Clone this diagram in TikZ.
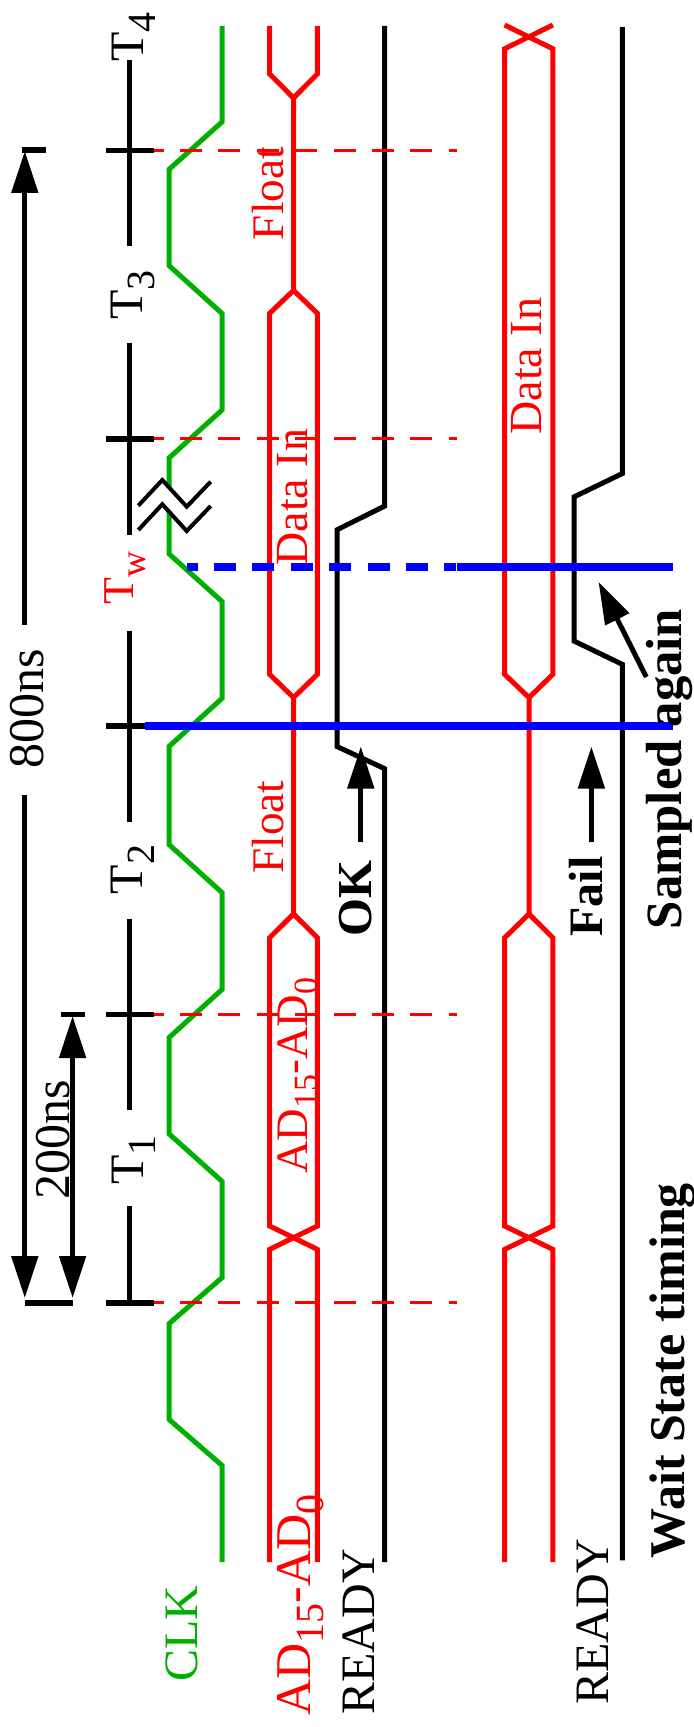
\documentclass[tikz,border=0pt]{standalone}
\usepackage{fontspec}
\setmainfont{Liberation Serif}
\usetikzlibrary{arrows.meta}
\definecolor{clkgreen}{RGB}{0,176,0}
\newcommand{\sublabel}[4]{#1\raisebox{#4}{\fontsize{#3}{#3}\selectfont #2}}
\tikzset{
	trace/.style={line width=2.5pt, line join=miter},
	tick/.style={line width=2.8pt},
	gridline/.style={line width=1.5pt, color=red, dash pattern=on 11pt off 8.2pt, dash phase=5.7pt},
	marker/.style={line width=3.7pt, color=blue},
	lbl/.style={rotate=90, anchor=base west, inner sep=0pt, font=\fontsize{#1}{#1}\selectfont},
	boldlbl/.style={rotate=90, anchor=base west, inner sep=0pt, font=\fontsize{#1}{#1}\selectfont\bfseries},
	span/.style={line width=2.5pt, -{Triangle[length=21pt,width=13pt]}},
	spanboth/.style={line width=2.5pt, {Triangle[length=21pt,width=13pt]}-{Triangle[length=21pt,width=13pt]}}
}

\begin{document}
\begin{tikzpicture}[x=0.5pt, y=-0.5pt]
	\useasboundingbox (0, 0) rectangle (694, 1727);
	%%%%% START %%%%%

	% clock
	\draw[trace, color=clkgreen] (222, 26) -- (222, 122) -- (169, 169.4) -- (169, 265.6) -- (222, 313.4) -- (222, 410)
		-- (169, 458) -- (169, 553.8) -- (222, 601.5) -- (222, 698.4) -- (169, 746.5) -- (169, 844.5) -- (222, 892.6)
		-- (222, 989.5) -- (169, 1037.6) -- (169, 1133.8) -- (222, 1181.3) -- (222, 1277.7) -- (169, 1323.7)
		-- (169, 1419.4) -- (222, 1465.4) -- (222, 1562);

	% bus, first case
	\draw[trace, color=red] (269.6, 26) -- (269.6, 74) -- (293.5, 98) -- (293.5, 290.4) -- (269.6, 313.4) -- (269.6, 674.3)
		-- (293.5, 697.6) -- (293.5, 914) -- (269.6, 937.8) -- (269.6, 1226) -- (317.4, 1249.4) -- (317.4, 1562);
	\draw[trace, color=red] (317.4, 26) -- (317.4, 74) -- (293.5, 98);
	\draw[trace, color=red] (293.5, 290.4) -- (317.4, 313.4) -- (317.4, 674.3) -- (293.5, 697.6);
	\draw[trace, color=red] (293.5, 914) -- (317.4, 937.8) -- (317.4, 1226) -- (269.6, 1249.4) -- (269.6, 1562);

	% bus, second case
	\draw[trace, color=red] (552.9, 25) -- (504.6, 48.8) -- (504.6, 674.3) -- (529, 697.6) -- (529, 914) -- (504.6, 937.8)
		-- (504.6, 1226) -- (552.9, 1249.4) -- (552.9, 1562);
	\draw[trace, color=red] (504.6, 25) -- (552.9, 48.8) -- (552.9, 674.3) -- (529, 697.6);
	\draw[trace, color=red] (529, 914) -- (552.9, 937.8) -- (552.9, 1226) -- (504.6, 1249.4) -- (504.6, 1562);

	% ready lines
	\draw[trace] (384.7, 26) -- (384.7, 506) -- (337, 529.8) -- (337, 746.5) -- (384.7, 768.7) -- (384.7, 1562);
	\draw[trace] (622.4, 27) -- (622.4, 473.5) -- (574, 496.9) -- (574, 641) -- (622.4, 664.4) -- (622.4, 1560.4);

	% dashed guides
	\draw[gridline] (153, 150.6) -- (457, 150.6);
	\draw[gridline] (153, 438.8) -- (457, 438.8);
	\draw[gridline] (153, 1014.3) -- (457, 1014.3);
	\draw[gridline] (153, 1302.7) -- (457, 1302.7);

	% period axis
	\draw[trace] (129.7, 60) -- (129.7, 246);
	\draw[trace] (129.7, 342.6) -- (129.7, 534.6);
	\draw[trace] (129.7, 630.7) -- (129.7, 822.3);
	\draw[trace] (129.7, 918.5) -- (129.7, 1110);
	\draw[trace] (129.7, 1206.3) -- (129.7, 1302.7);
	\draw[tick] (106, 150.6) -- (153.6, 150.6);
	\draw[tick] (106, 438.8) -- (153.6, 438.8);
	\draw[tick] (106, 726) -- (153.6, 726);
	\draw[tick] (106, 1014.3) -- (153.6, 1014.3);
	\draw[tick] (106, 1302.7) -- (153.6, 1302.7);

	% sampling instants
	\draw[marker] (145, 726) -- (672.9, 726);
	\draw[marker, dash pattern=on 11pt off 8.2pt, dash phase=5.7pt] (187, 567) -- (456, 567);
	\draw[marker] (457, 567) -- (672.9, 567);

	% break mark
	\fill[white] (138.3, 505.7) -- (162.3, 480) -- (186.7, 506.7) -- (210.7, 481.7) -- (210.7, 506) -- (186.7, 531) -- (162.3, 504.3) -- (138.3, 530) -- cycle;
	\draw[line width=2pt] (138.3, 505.7) -- (162.3, 480) -- (186.7, 506.7) -- (210.7, 481.7);
	\draw[line width=2pt] (138.3, 530) -- (162.3, 504.3) -- (186.7, 531) -- (210.7, 506);

	% dimension arrows
	\draw[tick] (22, 150) -- (45.6, 150);
	\draw[tick] (24.8, 1303) -- (73, 1303);
	\draw[tick] (61, 1014.3) -- (85, 1014.3);
	\draw[span] (24.8, 625) -- (24.8, 151);
	\draw[span] (24.8, 794.6) -- (24.8, 1298);
	\draw[spanboth] (72.6, 1016) -- (72.6, 1298);

	% pointers
	\draw[span] (360.8, 842) -- (360.8, 746.5);
	\draw[span] (591.4, 842) -- (591.4, 746.5);
	\draw[span] (646.3, 677) -- (598.5, 581.8);

	% labels
	\node[lbl=24] (t4) at (143.9, 62) {\sublabel{T}{4}{20}{-6pt}};
	\node[lbl=24] (t3) at (142, 320) {\sublabel{T}{3}{20}{-6pt}};
	\node[lbl=24] (t2) at (142, 894.5) {\sublabel{T}{2}{20}{-6pt}};
	\node[lbl=24] (t1) at (143, 1185) {\sublabel{T}{1}{20}{-6pt}};
	\node[lbl=22, color=red] (tw) at (133, 605) {\sublabel{T}{w}{18}{-6pt}};

	\node[lbl=25] (total) at (43, 769) {800ns};
	\node[lbl=25] (single) at (69.5, 1200) {200ns};

	\node[lbl=22.6, color=red] (floattop) at (283.3, 240.5) {Float};
	\node[lbl=22.6, color=red] (floatlow) at (283.3, 874) {Float};
	\node[lbl=23, color=red] (datatop) at (307.6, 566) {Data In};
	\node[lbl=23, color=red] (datalow) at (541.4, 435) {Data In};
	\node[lbl=22.5, color=red] (addrtop) at (307.6, 1174) {\sublabel{AD}{15}{17}{-4.7pt}-\sublabel{AD}{0}{17}{-4.7pt}};

	\node[lbl=24, color=clkgreen] (clk) at (197.9, 1682) {CLK};
	\node[lbl=25, color=red] (addr) at (310, 1716) {\sublabel{AD}{15}{20}{-6.5pt}-\sublabel{AD}{0}{20}{-6.5pt}};
	\node[lbl=24] (readya) at (374, 1715) {READY};
	\node[lbl=24] (readyb) at (608.7, 1705) {READY};

	\node[boldlbl=24.4] (ok) at (371.8, 937) {OK};
	\node[boldlbl=24] (fail) at (602, 937) {Fail};
	\node[boldlbl=25.4] (again) at (681.7, 929.6) {Sampled again};
	\node[boldlbl=25] (title) at (684, 1558.5) {Wait State timing};

	%%%%% END %%%%%
\end{tikzpicture}
\end{document}
